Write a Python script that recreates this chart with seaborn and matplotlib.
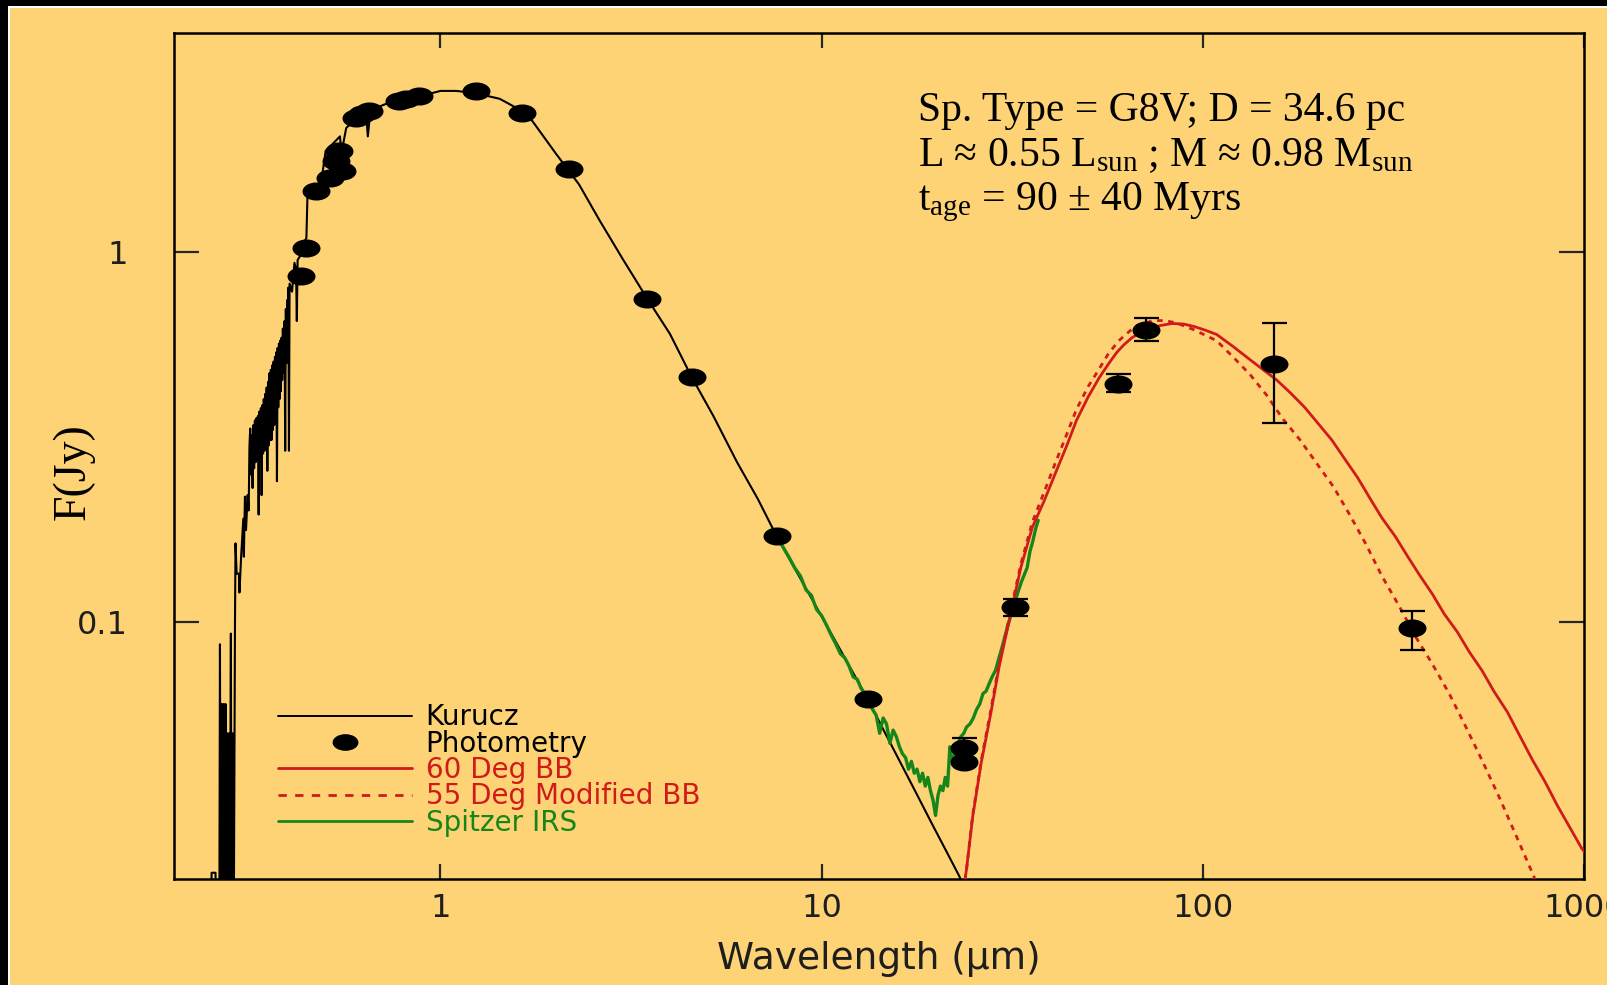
"""
Spectral energy distribution of a G8V star: Kurucz photosphere, photometry,
Spitzer IRS spectrum and two cold-dust blackbody fits (log-log axes).
"""
import matplotlib
matplotlib.use("Agg")
import pandas as pd
import matplotlib.pyplot as plt
import seaborn as sns
from matplotlib.lines import Line2D
from matplotlib.markers import MarkerStyle
from matplotlib.patches import Rectangle
from matplotlib.transforms import Affine2D

# --- data (wavelength in um, flux in Jy) ---
kurucz_wave = [
    # UV, noisy part
    0.250, 0.251, 0.257, 0.258, 0.263, 0.264, 0.265, 0.267, 0.268, 0.270,
    0.271, 0.273, 0.274, 0.276, 0.277, 0.279, 0.280, 0.282, 0.283, 0.285,
    0.287, 0.289, 0.290, 0.292, 0.296, 0.297, 0.300, 0.304, 0.305, 0.307,
    0.309, 0.312,
    # dense absorption band
    0.314, 0.3155, 0.317, 0.3185, 0.320, 0.3215, 0.323, 0.3245, 0.326, 0.3275,
    0.329, 0.3305, 0.332, 0.3335, 0.335, 0.3365, 0.338, 0.3395, 0.341, 0.3425,
    0.344, 0.3455, 0.347, 0.3485, 0.350, 0.3515, 0.353, 0.3545, 0.356, 0.3575,
    0.359, 0.3605, 0.362, 0.3635, 0.365, 0.3665, 0.368, 0.3695, 0.371, 0.3725,
    0.374, 0.3755, 0.377, 0.3785, 0.380, 0.3815, 0.383, 0.3845, 0.386, 0.3875,
    0.390, 0.3915, 0.393, 0.3945, 0.396, 0.3975, 0.399, 0.4005, 0.402,
    # optical to mid-IR
    0.408, 0.414, 0.418, 0.420, 0.422, 0.430, 0.437, 0.445, 0.448, 0.46,
    0.47, 0.482, 0.49, 0.50, 0.52, 0.545, 0.55, 0.566, 0.59, 0.61,
    0.638, 0.645, 0.655, 0.68, 0.72, 0.78, 0.845, 0.92, 1.0, 1.1,
    1.21, 1.32, 1.43, 1.58, 1.74, 2.01, 2.31, 2.61, 3.0, 3.49,
    4.0, 4.56, 5.2, 6.0, 6.8, 7.63, 8.76, 10.0, 11.5, 13.2,
    14.5, 16.0, 17.7, 19.5, 21.2, 23.0, 24.5]
kurucz_flux = [
    0.015, 0.021, 0.021, 0.015, 0.015, 0.087, 0.015, 0.060, 0.015, 0.060,
    0.015, 0.060, 0.015, 0.050, 0.015, 0.050, 0.015, 0.093, 0.015, 0.050,
    0.015, 0.094, 0.163, 0.135, 0.135, 0.120, 0.150, 0.190, 0.150, 0.218,
    0.177, 0.220,
    0.200, 0.300, 0.333, 0.250, 0.320, 0.230, 0.340, 0.260, 0.350, 0.270,
    0.355, 0.275, 0.360, 0.195, 0.370, 0.280, 0.378, 0.220, 0.385, 0.285,
    0.400, 0.290, 0.413, 0.300, 0.430, 0.256, 0.445, 0.300, 0.470, 0.310,
    0.480, 0.310, 0.493, 0.330, 0.505, 0.340, 0.520, 0.350, 0.535, 0.240,
    0.550, 0.380, 0.565, 0.400, 0.575, 0.420, 0.586, 0.450, 0.620, 0.470,
    0.650, 0.290, 0.700, 0.500, 0.740, 0.600, 0.800, 0.290, 0.820,
    0.780, 0.934, 0.900, 0.650, 0.950, 0.980, 1.05, 1.09, 1.43, 1.48,
    1.40, 1.555, 1.62, 1.875, 1.95, 2.05, 1.85, 2.16, 2.25, 2.30,
    2.37, 2.05, 2.40, 2.45, 2.51, 2.56, 2.60, 2.66, 2.72, 2.72,
    2.69, 2.64, 2.59, 2.45, 2.26, 1.84, 1.52, 1.22, 0.96, 0.746,
    0.60, 0.459, 0.36, 0.27, 0.215, 0.170, 0.132, 0.1035, 0.080, 0.062,
    0.0513, 0.0422, 0.0345, 0.0284, 0.0241, 0.0205, 0.0172]

spitzer_wave = [7.6, 7.9, 8.2, 8.5, 8.8, 9.1, 9.4, 9.7, 10.0, 10.3,
                10.6, 10.9, 11.2, 11.5, 11.8, 12.1, 12.4, 12.7, 13.0, 13.3,
                13.6, 13.9, 14.2, 14.5, 14.8, 15.1, 15.4, 15.7, 16.0, 16.3,
                16.6, 16.9, 17.2, 17.5, 17.8, 18.1, 18.4, 18.7, 19.0, 19.3,
                19.6, 19.9, 20.2, 20.5, 20.8, 21.1, 21.4, 21.7, 22.0, 22.4,
                22.8, 23.2, 23.6, 24.0, 24.5, 25.0, 25.5, 26.0, 26.5, 27.0,
                27.5, 28.0, 28.6, 29.2, 29.8, 30.4, 31.0, 31.6, 32.2, 32.8,
                33.4, 34.0, 34.6, 35.2, 35.8, 36.4, 37.0]
spitzer_flux = [0.172, 0.160, 0.150, 0.140, 0.133, 0.122, 0.118, 0.108, 0.104, 0.098,
                0.092, 0.087, 0.082, 0.080, 0.076, 0.071, 0.070, 0.066, 0.064, 0.061,
                0.058, 0.056, 0.050, 0.055, 0.053, 0.047, 0.051, 0.049, 0.046, 0.044,
                0.043, 0.040, 0.042, 0.039, 0.040, 0.037, 0.039, 0.036, 0.038, 0.035,
                0.033, 0.030, 0.034, 0.036, 0.035, 0.038, 0.036, 0.046, 0.042, 0.044,
                0.047, 0.049, 0.050, 0.052, 0.053, 0.055, 0.058, 0.060, 0.064, 0.065,
                0.068, 0.071, 0.074, 0.080, 0.086, 0.093, 0.100, 0.107, 0.114, 0.121,
                0.128, 0.134, 0.140, 0.155, 0.165, 0.178, 0.188]

bb60_wave = [23.3, 24.0, 24.9, 26.2, 27.8, 29.2, 31.0, 33.3, 35.7, 38.4,
             41.1, 44.0, 46.6, 50.0, 53.5, 56.5, 59.5, 62.0, 65.2, 69.0,
             74, 78, 83, 89, 95, 101, 108.7, 120, 133, 144,
             156, 170, 185, 200, 218, 236, 255, 275, 295, 320,
             345, 370, 400, 430, 465, 500, 540, 580, 630, 680,
             733, 790, 850, 915, 985, 1000]
bb60_flux = [0.0175, 0.0215, 0.0297, 0.0414, 0.0568, 0.0754, 0.100, 0.140, 0.180, 0.213,
             0.253, 0.300, 0.350, 0.405, 0.457, 0.497, 0.535, 0.560, 0.586, 0.607,
             0.625, 0.633, 0.640, 0.638, 0.628, 0.615, 0.598, 0.555, 0.511, 0.480,
             0.451, 0.415, 0.380, 0.345, 0.310, 0.275, 0.245, 0.215, 0.191, 0.170,
             0.150, 0.134, 0.119, 0.105, 0.094, 0.083, 0.0739, 0.065, 0.057, 0.049,
             0.0423, 0.037, 0.032, 0.028, 0.0245, 0.0240]

bb55_wave = [23.3, 24.0, 24.9, 26.2, 27.8, 29.2, 31.0, 33.3, 35.7, 38.4,
             41.1, 44.0, 46.6, 50.0, 53.5, 56.5, 60.2, 66, 73.6, 79,
             85, 95, 108.7, 120, 133, 147, 162, 180, 198, 220,
             242, 268, 295, 328, 362, 400, 443, 490, 540, 600,
             660, 733, 770]
bb55_flux = [0.0175, 0.0215, 0.0300, 0.0420, 0.0580, 0.0770, 0.102, 0.143, 0.186, 0.225,
             0.270, 0.322, 0.375, 0.432, 0.483, 0.530, 0.575, 0.625, 0.651, 0.652,
             0.643, 0.615, 0.575, 0.52, 0.466, 0.410, 0.354, 0.310, 0.27, 0.232,
             0.196, 0.162, 0.133, 0.110, 0.091, 0.077, 0.064, 0.052, 0.0423, 0.0335,
             0.0268, 0.0209, 0.0185]

phot_wave = [0.432, 0.445, 0.473, 0.512, 0.533, 0.543, 0.553, 0.60, 0.624, 0.65,
             0.78, 0.814, 0.88, 1.24, 1.64, 2.18, 3.49, 4.56, 7.63, 13.2,
             23.7, 23.7, 32.2, 59.8, 70.8, 154, 354]
phot_flux = [0.862, 1.025, 1.46, 1.58, 1.76, 1.87, 1.65, 2.30, 2.36, 2.40,
             2.56, 2.59, 2.63, 2.72, 2.37, 1.67, 0.746, 0.459, 0.171, 0.062,
             0.0456, 0.0419, 0.1096, 0.44, 0.616, 0.496, 0.096]

err_wave = [23.7, 32.2, 59.8, 70.8, 154, 354]
err_flux = [0.0456, 0.1096, 0.44, 0.616, 0.496, 0.096]
err_low = [0.003, 0.006, 0.023, 0.041, 0.151, 0.012]
err_high = [0.003, 0.006, 0.027, 0.048, 0.147, 0.011]

legend_labels = ["Kurucz", "Photometry", "60 Deg BB", "55 Deg Modified BB", "Spitzer IRS"]
info_lines = ["Sp. Type = G8V; D = 34.6 pc",
              r"L ≈ 0.55 $\mathrm{L}_{\mathrm{sun}}$ ; M ≈ 0.98 $\mathrm{M}_{\mathrm{sun}}$",
              r"$\mathrm{t}_{\mathrm{age}}$ = 90 ± 40 Myrs"]

# --- style ---
BG = "#fed376"
RED = "#cf1b1b"
GREEN = "#16861a"
TXT = "#1e1e1e"

sns.set_style("ticks")
plt.rcParams["font.family"] = ["DejaVu Sans"]
plt.rcParams["mathtext.fontset"] = "custom"
plt.rcParams["mathtext.rm"] = "Liberation Serif"
plt.rcParams["mathtext.it"] = "Liberation Serif:italic"

W, H = 1608, 985
fig = plt.figure(figsize=(W / 100, H / 100), dpi=100)
fig.patch.set_facecolor("black")
# white hairline + orange panel inside the black frame (left/top only)
fig.patches.append(Rectangle((8 / W, 0), 1 - 8 / W, 1 - 6 / H, transform=fig.transFigure,
                             facecolor="white", edgecolor="none", zorder=-20))
fig.patches.append(Rectangle((10 / W, 0), 1 - 10 / W, 1 - 8 / H, transform=fig.transFigure,
                             facecolor=BG, edgecolor="none", zorder=-10))

ax = fig.add_axes([174 / W, 1 - 879 / H, 1410 / W, 846 / H])
ax.set_facecolor(BG)

kurucz = pd.DataFrame({"wave": kurucz_wave, "flux": kurucz_flux})
spitzer = pd.DataFrame({"wave": spitzer_wave, "flux": spitzer_flux})
bb60 = pd.DataFrame({"wave": bb60_wave, "flux": bb60_flux})
bb55 = pd.DataFrame({"wave": bb55_wave, "flux": bb55_flux})
phot = pd.DataFrame({"wave": phot_wave, "flux": phot_flux})

line_kw = dict(x="wave", y="flux", estimator=None, sort=False, ax=ax, legend=False)
sns.lineplot(data=kurucz, color="black", linewidth=1.5, zorder=3, **line_kw)
sns.lineplot(data=spitzer, color=GREEN, linewidth=2.4, zorder=4, **line_kw)
sns.lineplot(data=bb55, color=RED, linewidth=2.0, linestyle=(0, (2, 2)), zorder=5, **line_kw)
sns.lineplot(data=bb60, color=RED, linewidth=2.0, zorder=5, **line_kw)

ax.errorbar(err_wave, err_flux, yerr=[err_low, err_high], fmt="none", ecolor="black",
            elinewidth=1.6, capsize=9, capthick=1.6, zorder=6)
ell = MarkerStyle("o", transform=Affine2D().scale(1.55, 1.0))
sns.scatterplot(data=phot, x="wave", y="flux", marker=ell, s=169, color="black",
                linewidth=0, zorder=7, ax=ax, legend=False)

ax.set_xscale("log")
ax.set_yscale("log")
ax.set_xlim(0.2, 1000)
ax.set_ylim(0.0202, 3.9)
ax.set_xticks([1, 10, 100, 1000], labels=["1", "10", "100", "1000"])
ax.set_yticks([0.1, 1], labels=["0.1", "1"])
ax.minorticks_off()

ax.tick_params(axis="x", which="major", direction="in", length=11, width=1.6,
               top=True, bottom=True, labelsize=23, pad=10, labelcolor=TXT)
ax.tick_params(axis="y", which="major", direction="in", length=18, width=1.6,
               left=True, right=True, labelsize=23, pad=33, labelcolor=TXT)
for sp in ax.spines.values():
    sp.set_linewidth(1.8)
    sp.set_color("black")

ax.set_xlabel("Wavelength (μm)", fontsize=27, color=TXT, va="center")
ax.xaxis.set_label_coords(0.5, -0.094)
ax.set_ylabel("F(Jy)", fontsize=33, family="Liberation Serif", color="black", va="center")
ax.yaxis.set_label_coords(-0.071, 0.481)

for txt, yb in zip(info_lines, [0.896, 0.843, 0.791]):
    ax.text(0.5277, yb, txt, transform=ax.transAxes, fontsize=30,
            family="Liberation Serif", color="black", va="baseline", ha="left")

handles = [
    Line2D([], [], color="black", linewidth=1.4),
    Line2D([], [], linestyle="none", marker=ell, markersize=12, color="black",
           markeredgewidth=0),
    Line2D([], [], color=RED, linewidth=2.0),
    Line2D([], [], color=RED, linewidth=2.0, linestyle=(0, (3, 3))),
    Line2D([], [], color=GREEN, linewidth=2.0),
]
leg = ax.legend(handles, legend_labels, loc="lower left", bbox_to_anchor=(0.074, 0.05),
                frameon=False, fontsize=20, handlelength=4.8, handletextpad=0.5,
                labelspacing=-0.06, borderpad=0, borderaxespad=0)
for t, c in zip(leg.get_texts(), ["black", "black", RED, RED, GREEN]):
    t.set_color(c)

fig.savefig("out.png", dpi=100, facecolor=fig.get_facecolor())
